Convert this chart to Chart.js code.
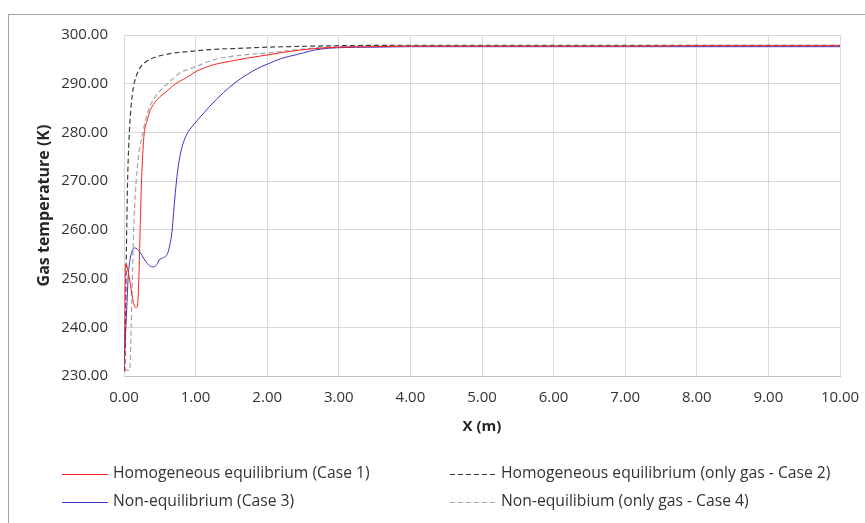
<!DOCTYPE html>
<html>
<head>
<meta charset="utf-8">
<script src="https://cdn.jsdelivr.net/npm/chart.js@4"></script>
<style>
  html, body { margin: 0; padding: 0; background: #fff; }
  #wrap { width: 865px; height: 523px; }
</style>
</head>
<body>
<div id="wrap"><canvas id="tempChart" width="865" height="523"></canvas></div>
<script>
'use strict';

// ── Data ────────────────────────────────────────────────────────────────────
const X_TICKS = [0, 1, 2, 3, 4, 5, 6, 7, 8, 9, 10];
const Y_TICKS = [230, 240, 250, 260, 270, 280, 290, 300];

// Case 1: homogeneous equilibrium
const x1 = [0, 0.01, 0.02, 0.03, 0.04, 0.08, 0.12, 0.15, 0.17, 0.19, 0.205, 0.215, 0.225, 0.24, 0.26, 0.28,
            0.32, 0.36, 0.41, 0.5, 0.6, 0.74, 0.83, 1.02, 1.25, 1.48, 1.7, 2.0, 2.3, 2.65, 3.0, 3.5,
            4, 5, 6, 7, 8, 9, 10];
const t1 = [231, 240, 252.5, 253, 252.6, 249.7, 245.9, 244.3, 244, 244.6, 249, 254, 260, 268, 275, 279.5,
            282.3, 284.3, 285.7, 287.3, 288.5, 290.2, 290.9, 292.6, 293.9, 294.6, 295.2, 295.9, 296.6, 297.2, 297.5, 297.6,
            297.7, 297.7, 297.7, 297.7, 297.8, 297.8, 297.8];

// Case 2: homogeneous equilibrium, only gas
const x2 = [0, 0.01, 0.02, 0.03, 0.04, 0.05, 0.06, 0.08, 0.1, 0.13, 0.17, 0.22, 0.29, 0.36, 0.45, 0.55,
            0.7, 0.97, 1.2, 1.67, 2.0, 2.6, 3.0, 4, 5, 6, 7, 8, 9, 10];
const t2 = [231, 231, 240, 252, 262, 270, 275, 281.5, 285.5, 289.2, 291.5, 293.2, 294.3, 295, 295.5, 295.9,
            296.3, 296.7, 297.0, 297.3, 297.5, 297.7, 297.8, 297.9, 297.9, 297.9, 297.9, 297.9, 297.9, 297.9];

// Case 3: non-equilibrium
const x3 = [0, 0.02, 0.04, 0.06, 0.08, 0.12, 0.15, 0.22, 0.29, 0.36, 0.41, 0.46, 0.49, 0.55, 0.61, 0.64,
            0.67, 0.69, 0.71, 0.74, 0.78, 0.82, 0.88, 0.95, 1.02, 1.2, 1.39, 1.55, 1.72, 1.86, 2.0, 2.2, 2.42,
            2.6, 2.74, 3.0, 3.5, 4, 5, 6, 7, 8, 9, 10];
const t3 = [231, 238, 244.5, 250.7, 253.5, 255.9, 256.3, 255.5, 253.8, 252.6, 252.4, 252.9, 253.8, 254.3, 255.2, 256.9,
            259.6, 263.1, 266.5, 271, 275, 277.5, 279.7, 281.2, 282.4, 285.4, 288.2, 290.2, 291.9, 293.1, 294, 295.2, 296,
            296.7, 297.1, 297.4, 297.5, 297.6, 297.6, 297.6, 297.6, 297.6, 297.6, 297.6];

// Case 4: non-equilibrium, only gas
const x4 = [0, 0.04, 0.08, 0.1, 0.12, 0.14, 0.17, 0.21, 0.25, 0.3, 0.34, 0.4, 0.5, 0.6, 0.78, 1.02,
            1.25, 1.45, 1.67, 2.0, 2.3, 2.65, 3.0, 4, 5, 6, 7, 8, 9, 10];
const t4 = [231.2, 231.2, 231.2, 240, 252, 262, 270, 276, 279, 282.5, 284.4, 286.5, 288.5, 289.9, 292.2, 293.6,
            294.9, 295.5, 295.9, 296.3, 296.8, 297.3, 297.6, 297.8, 297.8, 297.8, 297.8, 297.8, 297.8, 297.8];

const LABELS = [
  'Homogeneous equilibrium (Case 1)',
  'Homogeneous equilibrium (only gas - Case 2)',
  'Non-equilibrium (Case 3)',
  'Non-equilibium (only gas - Case 4)',
];

// ── Helpers ─────────────────────────────────────────────────────────────────
function pts(xs, ys) {
  return xs.map((x, i) => ({ x: x, y: ys[i] }));
}

function series(label, xs, ys, color, dash, width) {
  return {
    label: label,
    data: pts(xs, ys),
    showLine: true,
    borderColor: color,
    borderWidth: width,
    borderDash: dash,
    pointRadius: 0,
    cubicInterpolationMode: 'monotone',
    fill: false,
  };
}

const FONT = "'Open Sans', 'DejaVu Sans', sans-serif";

// frame round the whole chart + custom two-column legend
const framePlugin = {
  id: 'frame',
  beforeDraw(chart) {
    const c = chart.ctx;
    c.save();
    c.fillStyle = '#fff';
    c.fillRect(0, 0, chart.width, chart.height);
    c.strokeStyle = '#a6a6a6';
    c.lineWidth = 1;
    c.strokeRect(8.5, 14.5, 900, 600);
    c.restore();
  },
  afterDraw(chart) {
    const c = chart.ctx;
    const spots = [[62, 474], [450, 474], [62, 502], [450, 502]];
    c.save();
    c.font = '15.7px ' + FONT;
    c.textBaseline = 'middle';
    c.fillStyle = '#333';
    chart.data.datasets.forEach((ds, k) => {
      const [lx, ly] = spots[k];
      c.beginPath();
      c.strokeStyle = ds.borderColor;
      c.lineWidth = ds.borderWidth;
      c.setLineDash(ds.borderDash || []);
      c.moveTo(lx, ly + 0.5);
      c.lineTo(lx + 46, ly + 0.5);
      c.stroke();
      c.setLineDash([]);
      c.fillText(ds.label, lx + 51, ly);
    });
    c.restore();
  },
};

// ── Chart ───────────────────────────────────────────────────────────────────
const ctx = document.getElementById('tempChart').getContext('2d');

new Chart(ctx, {
  type: 'scatter',
  data: {
    datasets: [
      series(LABELS[0], x1, t1, '#ff2020', [], 1),
      series(LABELS[1], x2, t2, '#404040', [5, 3], 1.2),
      series(LABELS[2], x3, t3, '#3b35c8', [], 1),
      series(LABELS[3], x4, t4, '#a6a6a6', [5, 3], 1.2),
    ],
  },
  plugins: [framePlugin],
  options: {
    responsive: false,
    animation: false,
    layout: { padding: { top: 35, right: 25, left: 0, bottom: 87 } },
    plugins: {
      legend: { display: false },
      tooltip: { enabled: false },
    },
    scales: {
      x: {
        type: 'linear',
        min: X_TICKS[0],
        max: X_TICKS[X_TICKS.length - 1],
        afterBuildTicks: s => { s.ticks = X_TICKS.map(v => ({ value: v })); },
        afterFit: s => { s.height = 60; s.paddingLeft = 0; s.paddingRight = 0; },
        ticks: {
          padding: 13,
          color: '#333',
          font: { family: FONT, size: 15 },
          callback: v => Number(v).toFixed(2),
        },
        grid: { color: '#d9d9d9', drawTicks: false },
        border: { color: '#bfbfbf' },
        title: {
          display: true,
          text: 'X (m)',
          color: '#262626',
          font: { family: FONT, size: 15, weight: 'bold' },
          padding: { top: 0, bottom: 0 },
        },
      },
      y: {
        type: 'linear',
        min: Y_TICKS[0],
        max: Y_TICKS[Y_TICKS.length - 1],
        afterBuildTicks: s => { s.ticks = Y_TICKS.map(v => ({ value: v })); },
        afterFit: s => { s.width = 124; },
        ticks: {
          padding: 16,
          color: '#333',
          font: { family: FONT, size: 15 },
          callback: v => Number(v).toFixed(2),
        },
        grid: { color: '#d9d9d9', drawTicks: false },
        border: { color: '#d9d9d9' },
        title: {
          display: true,
          text: 'Gas temperature (K)',
          color: '#262626',
          font: { family: FONT, size: 16, weight: 'bold' },
          padding: { top: 35, bottom: 0 },
        },
      },
    },
  },
});
</script>
</body>
</html>
